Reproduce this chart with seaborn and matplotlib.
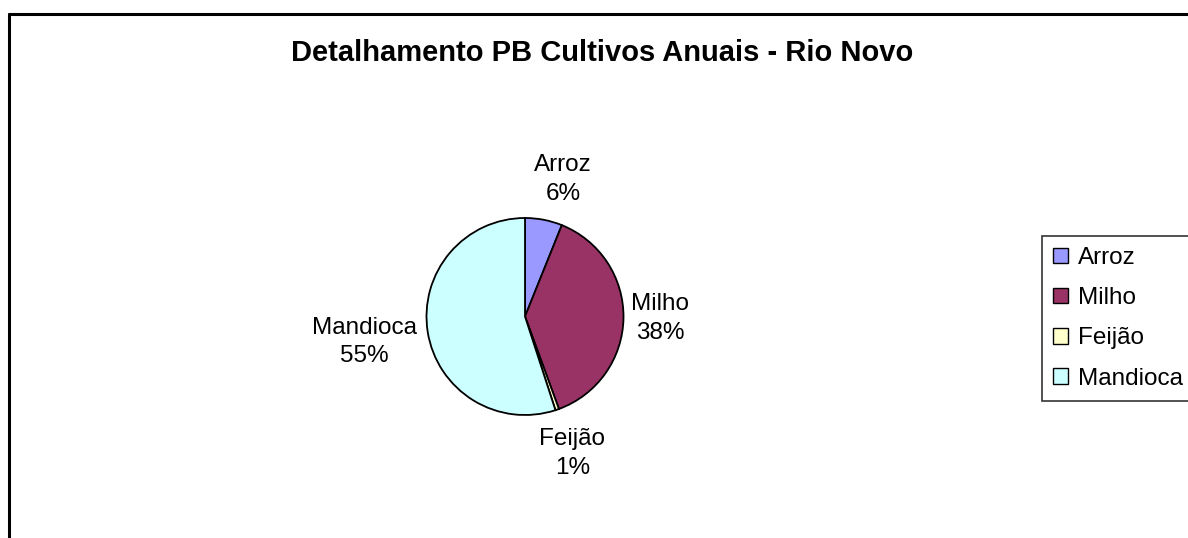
import numpy as np
import matplotlib
matplotlib.use("Agg")
import matplotlib.pyplot as plt
from matplotlib.patches import Patch
from matplotlib.lines import Line2D
import seaborn as sns

categories = ["Arroz", "Milho", "Feijão", "Mandioca"]
values = [6.1, 38.3, 0.6, 55.0]
pct_labels = ["6%", "38%", "1%", "55%"]
colors = ["#9999FF", "#993366", "#FFFFCC", "#CCFFFF"]
title = "Detalhamento PB Cultivos Anuais - Rio Novo"

sns.set_theme(style="white")
plt.rcParams["font.family"] = ["Liberation Sans", "DejaVu Sans"]
plt.rcParams["text.color"] = "black"
palette = sns.color_palette(colors)

W, H = 1188, 538
fig = plt.figure(figsize=(W / 100, H / 100), dpi=100)
fig.patch.set_facecolor("white")

# chart frame (left and top edges visible)
fig.add_artist(Line2D([9 / W, 9 / W], [0, 1 - 14 / H], color="black", lw=2.2,
                      transform=fig.transFigure))
fig.add_artist(Line2D([9 / W, 1], [1 - 14 / H, 1 - 14 / H], color="black", lw=2.2,
                      transform=fig.transFigure))

fig.text(602 / W, 1 - 53 / H, title, ha="center", va="center",
         fontsize=21, fontweight="bold")

cx, cy, r = 525, 316.5, 98.5
ax = fig.add_axes([(cx - r) / W, (H - cy - r) / H, 2 * r / W, 2 * r / H])
wedges, _ = ax.pie(values, colors=palette, startangle=90, counterclock=False,
                   wedgeprops=dict(edgecolor="black", linewidth=1.3))
ax.set_xlim(-1, 1)
ax.set_ylim(-1, 1)
ax.set_aspect("equal")
ax.axis("off")

dists = [1.44, 1.37, 1.47, 1.65]
ang_off = [4.6, 0, 0, 0]
for w, cat, pl, d, off in zip(wedges, categories, pct_labels, dists, ang_off):
    mid = np.deg2rad((w.theta1 + w.theta2) / 2 - off)
    ax.text(d * np.cos(mid), d * np.sin(mid), f"{cat}\n{pl}", ha="center",
            va="center", fontsize=17.5, linespacing=1.4, clip_on=False)

handles = [Patch(facecolor=c, edgecolor="black", linewidth=1.0) for c in palette]
leg = fig.legend(handles, categories, loc="upper left",
                 bbox_to_anchor=(1042 / W, 1 - 236 / H), frameon=True,
                 fancybox=False, edgecolor="black", fontsize=17.5,
                 handlelength=0.62, handleheight=0.62, handletextpad=0.42,
                 labelspacing=0.75, borderpad=0.45, borderaxespad=0)
leg.get_frame().set_linewidth(1.2)

fig.savefig("out.png", dpi=100, facecolor="white")
